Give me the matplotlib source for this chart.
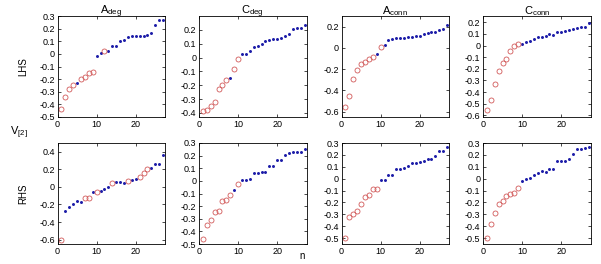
import numpy as np
import matplotlib
matplotlib.use("Agg")
import matplotlib.pyplot as plt

plt.rcParams['font.family'] = ['Liberation Sans', 'DejaVu Sans']
plt.rcParams['axes.unicode_minus'] = False
plt.rcParams['mathtext.fontset'] = 'custom'
plt.rcParams['mathtext.rm'] = 'Liberation Sans'

n = np.arange(1, 28)

titles = [r'$\mathrm{A}_{\mathrm{deg}}$', r'$\mathrm{C}_{\mathrm{deg}}$',
          r'$\mathrm{A}_{\mathrm{conn}}$', r'$\mathrm{C}_{\mathrm{conn}}$']
rows = ['LHS', 'RHS']

# values (n = 1..27)
lhs_adeg = [-0.44, -0.34, -0.28, -0.25, -0.228, -0.196, -0.18, -0.153, -0.14,
            -0.015, 0.004, 0.025, 0.025, 0.065, 0.065, 0.105, 0.113, 0.132, 0.14,
            0.14, 0.14, 0.145, 0.15, 0.165, 0.225, 0.265, 0.27]
lhs_adeg_red = [1, 2, 3, 4, 6, 7, 8, 9, 12]

lhs_cdeg = [-0.388, -0.383, -0.347, -0.318, -0.226, -0.202, -0.165, -0.146, -0.081,
            -0.013, 0.023, 0.023, 0.048, 0.077, 0.084, 0.096, 0.12, 0.127, 0.132,
            0.137, 0.144, 0.156, 0.169, 0.205, 0.21, 0.21, 0.232]
lhs_cdeg_red = [1, 2, 3, 4, 5, 6, 7, 9, 10]

lhs_aconn = [-0.553, -0.453, -0.296, -0.211, -0.148, -0.133, -0.107, -0.082, -0.054,
             0.009, 0.027, 0.075, 0.081, 0.09, 0.096, 0.096, 0.103, 0.106, 0.112,
             0.112, 0.128, 0.144, 0.15, 0.153, 0.169, 0.175, 0.213]
lhs_aconn_red = [1, 2, 3, 4, 5, 6, 7, 8, 10]

lhs_cconn = [-0.557, -0.471, -0.329, -0.223, -0.146, -0.114, -0.043, -0.003, 0.014,
             0.014, 0.029, 0.043, 0.057, 0.077, 0.077, 0.086, 0.1, 0.094, 0.114,
             0.12, 0.129, 0.134, 0.14, 0.149, 0.157, 0.163, 0.191]
lhs_cconn_red = [1, 2, 3, 4, 5, 6, 7, 8, 9]

rhs_adeg = [-0.6, -0.27, -0.224, -0.2, -0.162, -0.174, -0.127, -0.123, -0.057,
            -0.057, -0.046, -0.019, 0.001, 0.04, 0.051, 0.051, 0.047, 0.071, 0.078,
            0.09, 0.117, 0.164, 0.202, 0.214, 0.264, 0.264, 0.36]
rhs_adeg_red = [1, 7, 8, 10, 14, 18, 21, 22, 23]

rhs_cdeg = [-0.46, -0.352, -0.312, -0.25, -0.236, -0.156, -0.15, -0.115, -0.075,
            -0.023, 0.004, 0.006, 0.012, 0.065, 0.065, 0.074, 0.074, 0.114, 0.12,
            0.165, 0.165, 0.206, 0.222, 0.227, 0.227, 0.23, 0.255]
rhs_cdeg_red = [1, 2, 3, 4, 5, 6, 7, 8, 10]

rhs_aconn = [-0.5, -0.324, -0.301, -0.276, -0.211, -0.154, -0.14, -0.089, -0.083,
             -0.012, -0.012, 0.03, 0.03, 0.079, 0.079, 0.093, 0.11, 0.13, 0.135,
             0.138, 0.152, 0.164, 0.167, 0.187, 0.229, 0.229, 0.266]
rhs_aconn_red = [1, 2, 3, 4, 5, 6, 7, 8, 9]

rhs_cconn = [-0.5, -0.379, -0.293, -0.213, -0.187, -0.144, -0.127, -0.121, -0.078,
             -0.021, -0.007, 0.008, 0.031, 0.051, 0.065, 0.059, 0.079, 0.085, 0.145,
             0.145, 0.151, 0.165, 0.208, 0.246, 0.246, 0.257, 0.266]
rhs_cconn_red = [1, 2, 3, 4, 5, 6, 7, 8, 9]

series = [[(lhs_adeg, lhs_adeg_red), (lhs_cdeg, lhs_cdeg_red),
           (lhs_aconn, lhs_aconn_red), (lhs_cconn, lhs_cconn_red)],
          [(rhs_adeg, rhs_adeg_red), (rhs_cdeg, rhs_cdeg_red),
           (rhs_aconn, rhs_aconn_red), (rhs_cconn, rhs_cconn_red)]]

ylims = [[(-0.5, 0.3), (-0.43, 0.3), (-0.65, 0.3), (-0.615, 0.255)],
         [(-0.65, 0.5), (-0.5, 0.3), (-0.55, 0.3), (-0.55, 0.3)]]
yticks = [[np.arange(-0.5, 0.31, 0.1), np.arange(-0.4, 0.21, 0.1),
           np.arange(-0.6, 0.21, 0.2), np.arange(-0.6, 0.21, 0.1)],
          [np.arange(-0.6, 0.41, 0.2), np.arange(-0.5, 0.31, 0.1),
           np.arange(-0.5, 0.31, 0.1), np.arange(-0.5, 0.31, 0.1)]]

W, H = 601, 264
fig = plt.figure(figsize=(W / 100, H / 100), dpi=100)

lefts = [57.5, 199, 341.5, 483]
width = 107.5
tops = [16, 143]
height = 101

red = '#d25a5a'
blue = '#1c1ca8'

def fmt(v):
    s = '%.1f' % v
    if s in ('-0.0', '0.0'):
        return '0'
    return s

for r in range(2):
    for c in range(4):
        ax = fig.add_axes([lefts[c] / W, 1 - (tops[r] + height) / H, width / W, height / H])
        vals, red_idx = series[r][c]
        vals = np.array(vals)
        is_red = np.isin(n, red_idx)
        ax.plot(n[~is_red], vals[~is_red], '.', color=blue, ms=4.3, mew=0)
        ax.plot(n[is_red], vals[is_red], 'o', mfc='none', mec=red, ms=3.6, mew=0.6)
        ax.set_xlim(0, 27.5)
        ax.set_ylim(*ylims[r][c])
        ax.set_xticks([0, 10, 20])
        ax.set_yticks(yticks[r][c])
        ax.set_yticklabels([fmt(v) for v in yticks[r][c]])
        ax.tick_params(direction='in', top=True, right=True, length=2, width=0.5,
                       labelsize=6.5, pad=2)
        for sp in ax.spines.values():
            sp.set_linewidth(0.6)
        if r == 0:
            ax.set_title(titles[c], fontsize=8, pad=1.5)
        if c == 0:
            ax.set_ylabel(rows[r], fontsize=7, labelpad=8)

fig.text(10 / W, 1 - 133 / H, r'$\mathrm{V}_{[2]}$', fontsize=8, ha='left', va='center')
fig.text(302 / W, 1 - 256 / H, 'n', fontsize=7, ha='center', va='center')

fig.savefig('out.png', dpi=100)
